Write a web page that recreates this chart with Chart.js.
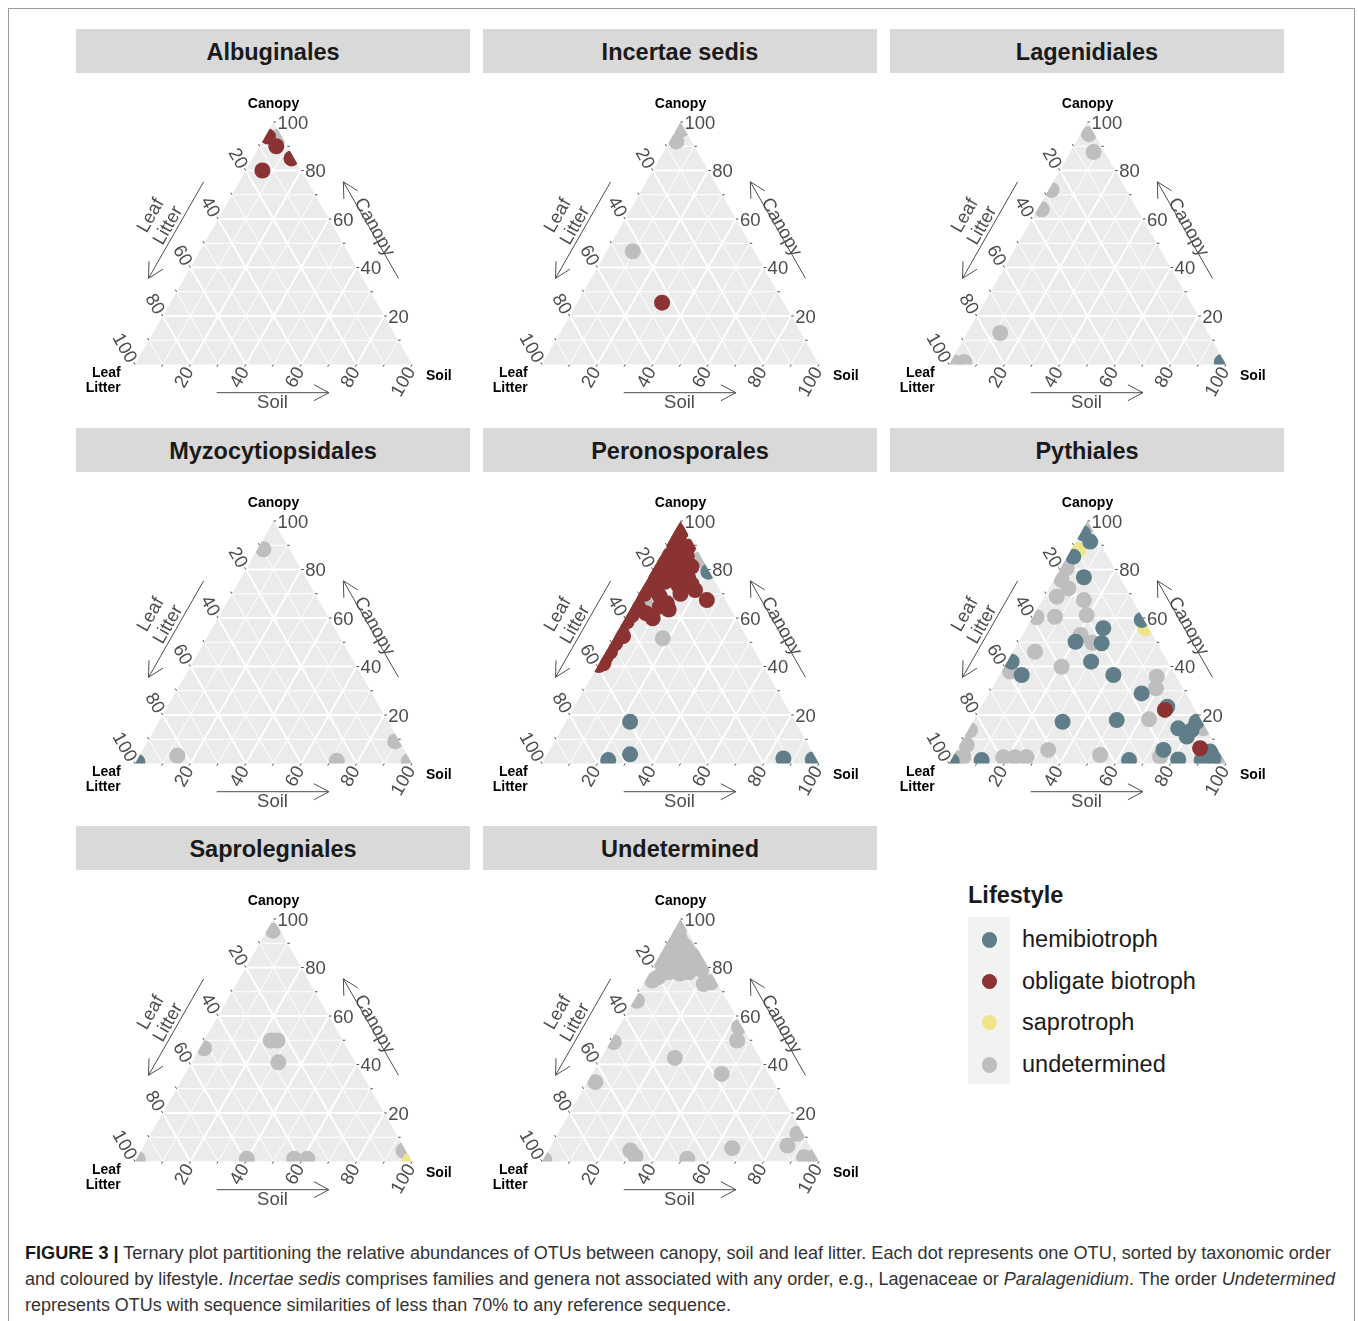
<!DOCTYPE html>
<html>
<head>
<meta charset="utf-8">
<title>Ternary plots of OTU relative abundances</title>
<script src="https://cdn.jsdelivr.net/npm/chart.js@4.4.1/dist/chart.umd.min.js"></script>
<style>
  html, body { margin: 0; padding: 0; background: #fff; }
  body { width: 1358px; height: 1321px; position: relative; overflow: hidden;
         font-family: Arial, "Liberation Sans", sans-serif; }
  #frame { position: absolute; left: 8px; top: 8px; width: 1347px; height: 1340px;
           border: 1px solid #9a9a9a; box-sizing: border-box; }
  .strip { position: absolute; width: 394px; height: 44px; background: #d9d9d9; color: #1a1a1a;
           font-weight: bold; font-size: 23.5px; line-height: 47px; text-align: center; }
  .panel { position: absolute; width: 394px; height: 340px; }
  #legendTitle { position: absolute; left: 968px; top: 880px; font-weight: bold; font-size: 23.5px;
                 line-height: 30px; color: #1a1a1a; }
  #legendKeys { position: absolute; left: 968px; top: 917px; width: 42px; height: 167px; background: #f2f2f2; }
  .key { position: absolute; left: 13.5px; width: 15.5px; height: 15.5px; border-radius: 50%; }
  .keyLabel { position: absolute; left: 1022px; font-size: 23.5px; line-height: 30px; color: #1a1a1a; white-space: nowrap; }
  .cap { position: absolute; left: 25px; font-size: 17.5px; line-height: 22px; color: #333;
         white-space: nowrap; transform-origin: 0 50%; }
  .cap b { color: #1a1a1a; }
</style>
</head>
<body>
<div id="frame"></div>
<div id="figure"></div>

<div id="legendTitle">Lifestyle</div>
<div id="legendKeys"></div>
<div id="legendLabels"></div>

<div class="cap" data-w="1306" style="top:1242px"><b>FIGURE 3 |</b> Ternary plot partitioning the relative abundances of OTUs between canopy, soil and leaf litter. Each dot represents one OTU, sorted by taxonomic order</div>
<div class="cap" data-w="1310" style="top:1268px">and coloured by lifestyle. <i>Incertae sedis</i> comprises families and genera not associated with any order, e.g., Lagenaceae or <i>Paralagenidium</i>. The order <i>Undetermined</i></div>
<div class="cap" data-w="706" style="top:1294px">represents OTUs with sequence similarities of less than 70% to any reference sequence.</div>

<script>
// Lifestyle categories, their colours and the order in which they are stacked (0 = on top)
const lifestyles = ['hemibiotroph', 'obligate biotroph', 'saprotroph', 'undetermined'];
const lifestyleColors = ['#5f7e8a', '#8b3232', '#eee58a', '#bebebe'];
const stackOrder = [1, 0, 2, 3];
const H = 0, O = 1, S = 2, U = 3;

// Ternary axes
const tickLabels = [20, 40, 60, 80, 100];
const tickMarks = [10, 20, 30, 40, 50, 60, 70, 80, 90, 100];
const gridMajor = [20, 40, 60, 80];
const gridMinor = [10, 30, 50, 70, 90];

// One row per OTU: [canopy %, soil %, leaf litter %, lifestyle]
const albuginales = [
  [94, 5, 1, U], [94, 1, 5, O], [90, 6, 4, O], [85, 14, 1, O], [80, 6, 14, O]
];
const incertaeSedis = [
  [97, 2, 1, U], [92, 2.5, 5.5, U], [46.7, 9.4, 43.9, U], [25.5, 30.6, 43.9, O]
];
const lagenidiales = [
  [95, 3, 2, U], [87.6, 8.4, 4, U], [72, 1, 27, U], [64, 1.5, 34.5, U], [13, 12, 75, U],
  [0.7, 2, 97.3, U], [1, 5, 94, U], [1, 98, 1, H]
];
const myzocytiopsidales = [
  [88.3, 2.2, 9.5, U], [0.7, 0.5, 98.8, H], [3.2, 13.7, 83.1, U], [1.1, 72.3, 26.6, U],
  [9.1, 89.4, 1.5, U], [1, 98.3, 0.7, U]
];
const peronosporales = [
  [83.9, 14.5, 1.6, U], [79.8, 11.1, 9.1, U], [76.8, 0.3, 22.9, U], [65.4, 4.8, 29.8, U], [51.6, 17.8, 30.6, U],
  [79.1, 20.5, 0.4, H], [17.2, 23.2, 59.6, H], [3.8, 29.9, 66.3, H], [1.4, 23.2, 75.4, H],
  [2.1, 86.1, 11.8, H], [1.7, 96.9, 1.4, H],
  [97.6, 1, 1.4, O], [92.2, 3.1, 4.7, O], [89.4, 8.1, 2.5, O], [86, 3.2, 10.8, O], [81.9, 1.7, 16.4, O],
  [79.1, 5.5, 15.4, O], [83.9, 6.7, 9.4, O], [81.2, 13.4, 5.4, O], [73.6, 12.4, 14, O], [71.5, 19.5, 9, O],
  [67.4, 25.8, 6.8, O], [72.2, 5.3, 22.5, O], [64.7, 10.2, 25.1, O], [66.1, 12, 21.9, O], [59.9, 10, 30.1, O],
  [67.4, 0.5, 32.1, O], [61.2, 1.8, 37, O], [58.5, 1.3, 40.2, O], [49.6, 1.6, 48.8, O], [46.1, 1.5, 52.4, O],
  [41.3, 1.5, 57.2, O], [40.6, 0.2, 59.2, O], [79.1, 0.5, 20.4, O], [72.9, 0.7, 26.4, O], [90.8, 2, 7.2, O],
  [86.7, 8.3, 5, O], [84.6, 1.5, 13.9, O], [76.4, 9.8, 13.8, O], [76.4, 14.6, 9, O], [76.4, 3.2, 20.4, O],
  [95, 2.5, 2.5, O], [93, 1, 6, O], [88, 5, 7, O], [85.5, 9.5, 5, O], [83, 3.5, 13.5, O],
  [80.5, 9, 10.5, O], [78, 1.5, 20.5, O], [75, 7, 18, O], [70, 2, 28, O], [69, 8, 23, O],
  [64, 3, 33, O], [62, 6.5, 31.5, O], [55, 1, 44, O], [52.5, 3, 44.5, O], [44, 1, 55, O],
  [70, 15, 15, O], [74, 17, 9, O], [63.5, 14, 22.5, O]
];
const pythiales = [
  [94.9, 1, 4.1, H], [91.5, 5.2, 3.3, H], [85.3, 2.2, 12.5, H], [76.8, 10.3, 12.9, H], [59.2, 40, 0.8, H],
  [55.8, 27.8, 16.4, H], [50.2, 20.6, 29.2, H], [49.6, 30.3, 20.1, H], [42, 30.3, 27.7, H], [42, 1.6, 56.4, H],
  [36.5, 8, 55.5, H], [36.5, 41.1, 22.4, H], [28.9, 55.1, 16, H], [23.4, 67.1, 9.5, H], [17.2, 32.4, 50.4, H],
  [17.9, 51.6, 30.5, H], [14.5, 75.5, 10, H], [17.2, 80.8, 2, H], [11.1, 80.3, 8.6, H], [13.8, 80.7, 5.5, H],
  [5.6, 74.6, 19.8, H], [1.7, 81.9, 16.4, H], [4.9, 91.8, 3.3, H], [1.4, 90.5, 8.1, H], [2.1, 94.4, 3.5, H],
  [1.4, 64.3, 34.3, H], [1.4, 11.1, 87.5, H], [1, 0.5, 98.5, H],
  [22.1, 66.9, 11, O], [6.3, 87.5, 6.2, O],
  [88, 2.7, 9.3, S], [55.8, 42.9, 1.3, S],
  [98, 1, 1, U], [80.5, 2.2, 17.3, U], [75.7, 2.8, 21.5, U], [72.2, 7, 20.8, U], [68.8, 4.5, 26.7, U],
  [67.4, 15, 17.6, U], [61.2, 19.1, 19.7, U], [60.5, 8, 31.5, U], [60.3, 1.5, 38.2, U], [53, 21, 26, U],
  [49.8, 26.8, 23.4, U], [46.1, 8, 45.9, U], [39.9, 20.7, 39.4, U], [37.9, 3.1, 59, U], [35.8, 57.1, 7.1, U],
  [31, 59.2, 9.8, U], [18.2, 63.1, 18.7, U], [14.5, 84.6, 0.9, U], [2.8, 74.8, 22.4, U], [2.8, 95.2, 2, U],
  [1, 98, 1, U], [3.5, 52.8, 43.7, U], [5.6, 33, 61.4, U], [2.6, 26.7, 70.7, U], [2.6, 22.5, 74.9, U],
  [2.6, 18.3, 79.1, U], [13.8, 0.7, 85.5, U], [7.6, 2.6, 89.8, U], [2.8, 3.8, 93.4, U], [2, 2, 96, U]
];
const saprolegniales = [
  [0.5, 99, 0.5, S],
  [95.2, 2.2, 2.6, U], [46.7, 1.6, 51.7, U], [49.9, 24.1, 26, U], [49.9, 26.5, 23.6, U], [40.9, 31.3, 27.8, U],
  [1, 0.5, 98.5, U], [1.1, 39.8, 59.1, U], [1.1, 56.9, 42, U], [1.1, 61.7, 37.2, U], [4.5, 94.7, 0.8, U]
];
const undetermined = [
  [96.6, 1.5, 1.9, U], [91.1, 4.5, 4.4, U], [87.6, 3.8, 8.6, U], [87.6, 8.6, 3.8, U], [85.6, 2.4, 12, U],
  [85, 12, 3, U], [82.1, 1.7, 16.2, U], [80.1, 3.9, 16, U], [78, 6.8, 15.2, U], [81.5, 11.7, 6.8, U],
  [82.1, 16.2, 1.7, U], [74.6, 2.5, 22.9, U], [73.2, 21.8, 5, U], [73.9, 24.1, 2, U], [66.3, 1.1, 32.6, U],
  [55.4, 43.4, 1.2, U], [49.9, 45.5, 4.6, U], [49.2, 1.3, 49.5, U], [42.7, 26.6, 30.7, U], [36.1, 46.8, 17.1, U],
  [32.7, 2.9, 64.4, U], [11.4, 86.5, 2.1, U], [6.6, 85.3, 8.1, U], [5.5, 65.9, 28.6, U], [4.5, 29.7, 65.8, U],
  [2.1, 32.7, 65.2, U], [1.1, 51.9, 47, U], [0.7, 0.5, 98.8, U], [1.8, 93.7, 4.5, U], [1.8, 97.3, 0.9, U],
  [93, 3, 4, U], [90, 1.5, 8.5, U], [89, 7, 4, U], [84, 7, 9, U], [83, 12, 5, U],
  [80, 8, 12, U], [78, 14, 8, U], [79, 18, 3, U], [76, 4, 20, U], [77.5, 11, 11.5, U]
];

const orderNames = ['Albuginales', 'Incertae sedis', 'Lagenidiales', 'Myzocytiopsidales',
                    'Peronosporales', 'Pythiales', 'Saprolegniales', 'Undetermined'];
const orderRows = [albuginales, incertaeSedis, lagenidiales, myzocytiopsidales,
                   peronosporales, pythiales, saprolegniales, undetermined];

// ---------- ternary geometry helpers ----------
const unit = (a, b) => { const dx = b.x - a.x, dy = b.y - a.y, l = Math.hypot(dx, dy); return { x: dx / l, y: dy / l, len: l }; };

const TEXT_FONT = '18.5px Arial, "Liberation Sans", sans-serif';
const VERTEX_FONT = 'bold 14px Arial, "Liberation Sans", sans-serif';
const INK = '#4d4d4d';

// Draws the triangle panel, its grid, ticks, axis arrows and labels, then clips the points to it
const ternaryFrame = {
  id: 'ternaryFrame',
  beforeDatasetsDraw(chart) {
    const ctx = chart.ctx, xs = chart.scales.x, ys = chart.scales.y;
    const P = (c, s) => ({ x: xs.getPixelForValue(s + c / 2), y: ys.getPixelForValue(c) });
    const T = P(100, 0), L = P(0, 0), R = P(0, 100);
    const centroid = { x: (T.x + L.x + R.x) / 3, y: (T.y + L.y + R.y) / 3 };
    const tri = () => { ctx.beginPath(); ctx.moveTo(T.x, T.y); ctx.lineTo(L.x, L.y); ctx.lineTo(R.x, R.y); ctx.closePath(); };
    const seg = (a, b) => { ctx.beginPath(); ctx.moveTo(a.x, a.y); ctx.lineTo(b.x, b.y); ctx.stroke(); };
    const add = (p, v, k) => ({ x: p.x + v.x * k, y: p.y + v.y * k });

    ctx.save();
    tri();
    ctx.fillStyle = '#ebebeb';
    ctx.fill();

    // grid: constant canopy, constant soil, constant leaf litter
    ctx.save();
    tri();
    ctx.clip();
    ctx.strokeStyle = '#ffffff';
    [[gridMinor, 1], [gridMajor, 2]].forEach(([vals, w]) => {
      ctx.lineWidth = w;
      vals.forEach(v => {
        seg(P(v, 0), P(v, 100 - v));
        seg(P(0, v), P(100 - v, v));
        seg(P(100 - v, 0), P(0, 100 - v));
      });
    });
    ctx.restore();

    // tick marks and tick labels
    const rightDir = { x: 1, y: 0 };
    const leafDir = (() => { const u = unit(R, T); return { x: u.x, y: u.y }; })();
    const soilDir = (() => { const u = unit(T, L); return { x: u.x, y: u.y }; })();
    const axes = [
      { at: v => P(v, 100 - v), dir: rightDir, rot: 0, align: 'left' },
      { at: v => P(100 - v, 0), dir: leafDir, rot: Math.atan2(-leafDir.y, -leafDir.x), align: 'right' },
      { at: v => P(0, v), dir: soilDir, rot: Math.atan2(-soilDir.y, -soilDir.x), align: 'right' }
    ];
    ctx.strokeStyle = INK;
    ctx.lineWidth = 1;
    ctx.fillStyle = INK;
    ctx.font = TEXT_FONT;
    ctx.textBaseline = 'middle';
    axes.forEach(ax => {
      tickMarks.forEach(v => { const a = ax.at(v); seg(a, add(a, ax.dir, 2.5)); });
      tickLabels.forEach(v => {
        const p = add(ax.at(v), ax.dir, 4);
        ctx.save();
        ctx.translate(p.x, p.y);
        ctx.rotate(ax.rot);
        ctx.textAlign = ax.align;
        ctx.fillText(String(v), 0, 1.5);
        ctx.restore();
      });
    });

    // axis arrows with their titles
    const outward = (A, B) => {
      const u = unit(A, B);
      let n = { x: u.y, y: -u.x };
      const mid = { x: (A.x + B.x) / 2 - centroid.x, y: (A.y + B.y) / 2 - centroid.y };
      if (n.x * mid.x + n.y * mid.y < 0) n = { x: -n.x, y: -n.y };
      return n;
    };
    const edgeAxis = (A, B, f0, f1, d, lines, tf, offsets) => {
      const u = unit(A, B), n = outward(A, B);
      const at = (f, k) => ({ x: A.x + u.x * u.len * f + n.x * k, y: A.y + u.y * u.len * f + n.y * k });
      const s = at(f0, d), e = at(f1, d);
      seg(s, e);
      seg(e, { x: e.x - u.x * 15 + n.x * 8, y: e.y - u.y * 15 + n.y * 8 });
      seg(e, { x: e.x - u.x * 15 - n.x * 8, y: e.y - u.y * 15 - n.y * 8 });
      let rot = Math.atan2(u.y, u.x);
      if (Math.cos(rot) < 0) rot += Math.PI;
      lines.forEach((txt, i) => {
        const p = at(tf, offsets[i]);
        ctx.save();
        ctx.translate(p.x, p.y);
        ctx.rotate(rot);
        ctx.textAlign = 'center';
        ctx.fillText(txt, 0, 1);
        ctx.restore();
      });
    };
    edgeAxis(L, R, 0.295, 0.70, 28.2, ['Soil'], 0.4964, [37.2]);
    edgeAxis(R, T, 0.292, 0.69, 31, ['Canopy'], 0.494, [36.2]);
    edgeAxis(T, L, 0.31, 0.708, 31, ['Leaf', 'Litter'], 0.509, [61, 41]);

    // vertex labels
    ctx.fillStyle = '#000';
    ctx.font = VERTEX_FONT;
    ctx.textAlign = 'center';
    ctx.fillText('Canopy', T.x, T.y - 17.7);
    ctx.textAlign = 'left';
    ctx.fillText('Soil', R.x + 14, R.y + 11.8);
    ctx.textAlign = 'right';
    ctx.fillText('Leaf', L.x - 14.3, L.y + 8.5);
    ctx.fillText('Litter', L.x - 14.3, L.y + 23.2);
    ctx.restore();

    // points are confined to the triangle
    ctx.save();
    tri();
    ctx.clip();
  },
  afterDatasetsDraw(chart) {
    chart.ctx.restore();
  }
};

// ---------- build the facets ----------
const figure = document.getElementById('figure');
const colX = [76, 483, 890];
const rowY = [29, 428, 826];

orderNames.forEach((name, i) => {
  const left = colX[i % 3], top = rowY[Math.floor(i / 3)];
  const strip = document.createElement('div');
  strip.className = 'strip';
  strip.style.left = left + 'px';
  strip.style.top = top + 'px';
  strip.textContent = name;
  figure.appendChild(strip);

  const canvas = document.createElement('canvas');
  canvas.className = 'panel';
  canvas.width = 394;
  canvas.height = 340;
  canvas.style.left = left + 'px';
  canvas.style.top = (top + 44) + 'px';
  figure.appendChild(canvas);

  const rows = orderRows[i];
  const datasets = lifestyles.map((life, k) => ({
    label: life,
    data: rows.filter(r => r[3] === k).map(r => {
      const tot = r[0] + r[1] + r[2];
      const c = 100 * r[0] / tot, s = 100 * r[1] / tot;
      return { x: s + c / 2, y: c };
    }),
    backgroundColor: lifestyleColors[k],
    borderWidth: 0,
    pointRadius: 8,
    pointHoverRadius: 8,
    order: stackOrder[k],
    clip: false
  }));

  new Chart(canvas, {
    type: 'scatter',
    data: { datasets },
    options: {
      responsive: false,
      animation: false,
      events: [],
      layout: { padding: { left: 59, right: 58, top: 49, bottom: 48.5 } },
      scales: {
        x: { type: 'linear', min: 0, max: 100, display: false },
        y: { type: 'linear', min: 0, max: 100, display: false }
      },
      plugins: { legend: { display: false }, tooltip: { enabled: false } }
    },
    plugins: [ternaryFrame]
  });
});

// ---------- legend ----------
const keyCentres = [940, 981.7, 1022.7, 1065];
const keys = document.getElementById('legendKeys');
const labels = document.getElementById('legendLabels');
lifestyles.forEach((life, k) => {
  const dot = document.createElement('div');
  dot.className = 'key';
  dot.style.top = (keyCentres[k] - 917 - 7.75) + 'px';
  dot.style.background = lifestyleColors[k];
  keys.appendChild(dot);
  const lab = document.createElement('div');
  lab.className = 'keyLabel';
  lab.style.top = (keyCentres[k] - 16) + 'px';
  lab.textContent = life;
  labels.appendChild(lab);
});

// caption lines are set in a narrow measure
document.querySelectorAll('.cap').forEach(el => {
  const w = el.getBoundingClientRect().width;
  el.style.transform = 'scaleX(' + (+el.dataset.w / w) + ')';
});
</script>
</body>
</html>
